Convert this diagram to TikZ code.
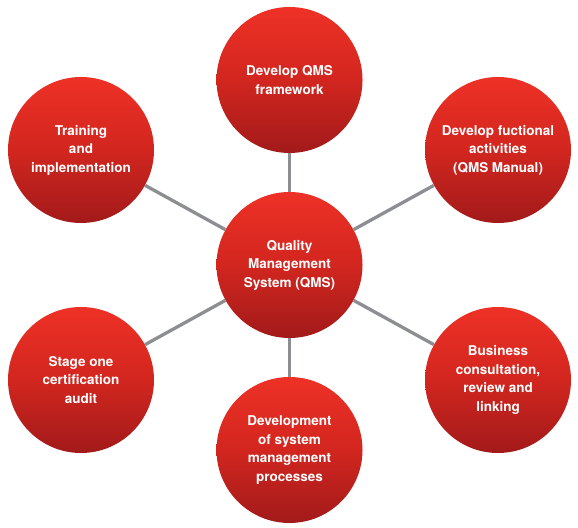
\documentclass[tikz,border=0pt]{standalone}
\usepackage{fontspec}
\setmainfont{TeX Gyre Heros}
\usepackage{tikz}
\usetikzlibrary{positioning}
\definecolor{qmsTop}{HTML}{EE3126}
\definecolor{qmsMid}{HTML}{D2261F}
\definecolor{qmsLow}{HTML}{A21A1A}
\definecolor{qmsGrey}{HTML}{8C8E91}
\pgfdeclareverticalshading{qmsFade}{100bp}{color(0bp)=(qmsLow); color(25bp)=(qmsLow);
  color(50bp)=(qmsMid); color(75bp)=(qmsTop); color(100bp)=(qmsTop)}

\begin{document}
\begin{tikzpicture}[x=1bp,y=1bp,font=\fontsize{13.5bp}{18.5bp}\selectfont\bfseries,
  ball/.style={circle,minimum size=146bp,inner sep=0pt,shading=qmsFade,
               text=white,align=center},
  spoke/.style={draw=qmsGrey,line width=3.3bp}]
\useasboundingbox (0,0) rectangle (578,528);
\node[ball] (qms) at (289.5,263) {Quality\\Management\\System (QMS)};
\node[ball] (frame) at (289.5,448) {Develop QMS\\framework};
\node[ball] (func) at (498,378) {Develop fuctional\\activities\\(QMS Manual)};
\node[ball] (consult) at (498,148) {Business\\consultation,\\review and\\linking};
\node[ball] (process) at (289.5,78) {Development\\of system\\management\\processes};
\node[ball] (audit) at (81,148) {Stage one\\certification\\audit};
\node[ball] (train) at (81,378) {Training\\and\\implementation};
\foreach \n in {frame,func,consult,process,audit,train}
  \draw[spoke] (qms) -- (\n);
\end{tikzpicture}
\end{document}
